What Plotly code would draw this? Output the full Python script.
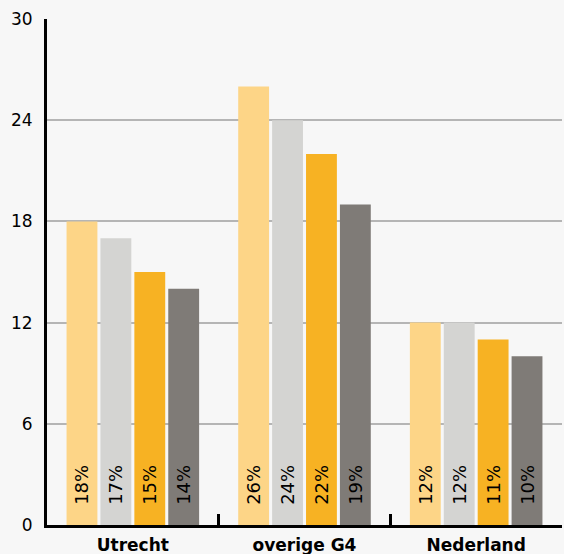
import plotly.graph_objects as go

categories = ["Utrecht", "overige G4", "Nederland"]
series_names = ["Serie 1", "Serie 2", "Serie 3", "Serie 4"]
values = [
    [18, 26, 12],
    [17, 24, 12],
    [15, 22, 11],
    [14, 19, 10],
]
colors = ["#fdd587", "#d4d4d2", "#f7b223", "#7f7b77"]
y_ticks = [0, 6, 12, 18, 24, 30]

fig = go.Figure()
for name, vals, col in zip(series_names, values, colors):
    fig.add_trace(go.Bar(
        x=categories, y=vals, name=name, marker=dict(color=col, line=dict(width=0)),
        text=[f"\u00a0\u00a0\u00a0{v}%" for v in vals], textposition="inside", insidetextanchor="start",
        textangle=-90, textfont=dict(size=18, color="black", family="DejaVu Sans"),
        constraintext="none", cliponaxis=False,
    ))

fig.update_layout(
    width=564, height=554, barmode="group", bargap=0.21, bargroupgap=0.09,
    paper_bgcolor="#f7f7f7", plot_bgcolor="#f7f7f7",
    margin=dict(l=47, r=2, t=19, b=29), showlegend=False,
    font=dict(family="DejaVu Sans", color="black"),
    uniformtext=dict(minsize=18, mode="show"),
)
fig.update_yaxes(
    range=[0, 30], tickvals=y_ticks, ticktext=[str(t) for t in y_ticks],
    showgrid=True, gridcolor="#b5b5b5", gridwidth=2,
    showline=True, linecolor="black", linewidth=3, zeroline=False,
    ticks="", tickfont=dict(size=17), ticklabelstandoff=8, automargin=False,
)
fig.update_xaxes(
    showline=True, linecolor="black", linewidth=3,
    ticks="inside", tickson="boundaries", ticklen=11, tickwidth=3, tickcolor="black",
    tickfont=dict(size=17, family="DejaVu Sans", weight="bold"), automargin=False,
    ticklabelstandoff=3,
)
fig.write_html(
    "out.html",
    config={"displayModeBar": False},
    post_script="document.body.style.margin='0';document.body.style.background='#f7f7f7';",
)
